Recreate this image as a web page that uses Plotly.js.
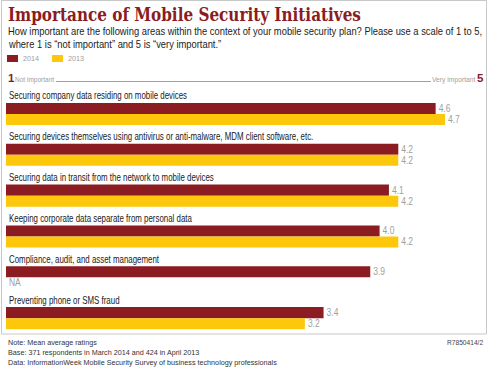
<!DOCTYPE html>
<html>
<head>
<meta charset="utf-8">
<script src="https://cdn.plot.ly/plotly-3.0.1.min.js"></script>
<style>
html,body{margin:0;padding:0;background:#fff;}
#chart{width:489px;height:369px;}
</style>
</head>
<body>
<div id="chart"></div>
<script>
// ---- data ----
const categories = [
  "Securing company data residing on mobile devices",
  "Securing devices themselves using antivirus or anti-malware, MDM client software, etc.",
  "Securing data in transit from the network to mobile devices",
  "Keeping corporate data separate from personal data",
  "Compliance, audit, and asset management",
  "Preventing phone or SMS fraud"
];
const seriesNames = ["2014", "2013"];
const values2014 = [4.6, 4.2, 4.1, 4.0, 3.9, 3.4];
const values2013 = [4.7, 4.2, 4.2, 4.2, null, 3.2];
const scaleMin = 1, scaleMax = 5;
const scaleLabels = ["Not important", "Very important"];

// ---- layout helpers (pixel -> paper) ----
const W = 489, H = 369;
const PL = 6, PR = 473, PT = 86, PB = 331;
const px = x => (x - PL) / (PR - PL);
const py = y => 1 - (y - PT) / (PB - PT);

const RED = "#8a1c22", GOLD = "#fdc70c", GRAY = "#a0a0a0";
const SANS = "'Liberation Sans', Arial, sans-serif";
const SERIF = "'DejaVu Serif Condensed', 'DejaVu Serif', serif";

const barW = 0.27;
const traces = [
  {type:"bar", orientation:"h", name:seriesNames[0], y:categories, x:values2014,
   marker:{color:RED}, width:barW, offset:-0.085,
   text:values2014.map(v=>v==null?"":v.toFixed(1)), textposition:"outside",
   textfont:{family:SANS, size:10, color:GRAY}, cliponaxis:false, hoverinfo:"none"},
  {type:"bar", orientation:"h", name:seriesNames[1], y:categories, x:values2013,
   marker:{color:GOLD}, width:barW, offset:0.185,
   text:values2013.map(v=>v==null?"":v.toFixed(1)), textposition:"outside",
   textfont:{family:SANS, size:10, color:GRAY}, cliponaxis:false, hoverinfo:"none"}
];

const ann = [];
const condense = [];   // horizontal condensing factor per annotation (stand-in for a condensed face)
const A = (o, k) => { ann.push(Object.assign({showarrow:false, xref:"paper", yref:"paper"}, o)); condense.push(k || 1); };

// title & subtitle
A({x:px(6), y:py(14.5), xanchor:"left", yanchor:"middle", align:"left",
   text:"<b>Importance of Mobile Security Initiatives</b>",
   font:{family:SERIF, size:18.5, color:RED}}, 0.915);
A({x:px(6), y:py(31), xanchor:"left", yanchor:"middle", align:"left",
   text:"How important are the following areas within the context of your mobile security plan? Please use a scale of 1 to 5,",
   font:{family:SANS, size:10.5, color:"#222"}}, 0.893);
A({x:px(6), y:py(44), xanchor:"left", yanchor:"middle", align:"left",
   text:"where 1 is \u201cnot important\u201d and 5 is \u201cvery important.\u201d",
   font:{family:SANS, size:10.5, color:"#222"}}, 0.893);

// legend (custom)
const shapes = [];
const legX = [7, 52];
seriesNames.forEach((n,i)=>{
  shapes.push({type:"rect", xref:"paper", yref:"paper", x0:px(legX[i]), x1:px(legX[i]+11),
    y0:py(62), y1:py(55), fillcolor:i===0?RED:GOLD, line:{width:0}});
  A({x:px(legX[i]+14), y:py(58.5), xanchor:"left", yanchor:"middle", align:"left", text:n,
     font:{family:SANS, size:8, color:GRAY}}, 0.9);
});

// scale line
A({x:px(6), y:py(78), xanchor:"left", yanchor:"middle", align:"left", text:"<b>"+scaleMin+"</b>",
   font:{family:SANS, size:11.5, color:RED}});
A({x:px(13), y:py(79), xanchor:"left", yanchor:"middle", align:"left", text:scaleLabels[0],
   font:{family:SANS, size:7.5, color:GRAY}}, 0.87);
A({x:px(478), y:py(79), xanchor:"right", yanchor:"middle", align:"right", text:scaleLabels[1],
   font:{family:SANS, size:7.5, color:GRAY}}, 0.9);
A({x:px(486), y:py(78), xanchor:"right", yanchor:"middle", align:"right", text:"<b>"+scaleMax+"</b>",
   font:{family:SANS, size:11.5, color:RED}});
shapes.push({type:"line", xref:"paper", yref:"paper", x0:px(56), x1:px(431), y0:py(81.5), y1:py(81.5),
  line:{color:"#888", width:0.8}});

// category labels
categories.forEach((c,i)=>{
  ann.push({showarrow:false, xref:"x", yref:"y", x:0, y:i, xanchor:"left", yanchor:"middle", align:"left",
    xshift:1, yshift:10.5, text:c, font:{family:SANS, size:10, color:"#1a1a1a"}});
  condense.push(0.79);
});
// NA labels
values2013.forEach((v,i)=>{
  if(v==null){ ann.push({showarrow:false, xref:"x", yref:"y", x:0, y:i, xanchor:"left", yanchor:"middle", align:"left",
    xshift:1, yshift:-13, text:"NA", font:{family:SANS, size:10, color:GRAY}}); condense.push(0.85); }
});

// frame
shapes.push({type:"rect", xref:"paper", yref:"paper", x0:px(1.5), x1:px(486.5), y0:py(334), y1:py(0.5),
  line:{color:"#c8c8c8", width:1}, fillcolor:"rgba(0,0,0,0)", layer:"below"});

// footnotes
const notes = ["Note: Mean average ratings",
  "Base: 371 respondents in March 2014 and 424 in April 2013",
  "Data: InformationWeek Mobile Security Survey of business technology professionals"];
notes.forEach((t,i)=>A({x:px(6), y:py(342+i*10), xanchor:"left", yanchor:"middle", align:"left", text:t,
  font:{family:SANS, size:8, color:"#333"}}, 0.9));
A({x:px(485), y:py(342), xanchor:"right", yanchor:"middle", align:"right", text:"R7850414/2",
  font:{family:SANS, size:7, color:"#444"}}, 0.95);

const layout = {
  width:W, height:H,
  margin:{l:PL, r:W-PR, t:PT, b:H-PB, pad:0},
  paper_bgcolor:"#fff", plot_bgcolor:"rgba(0,0,0,0)",
  showlegend:false,
  barmode:"overlay",
  xaxis:{range:[0,5], visible:false, fixedrange:true},
  yaxis:{type:"category", autorange:false, visible:false, range:[5.5,-0.5], fixedrange:true},
  annotations:ann, shapes:shapes
};

// horizontally condense a text element around its anchor edge
function squeeze(t, k, anchor){
  const b = t.getBBox();
  const x0 = anchor === "right" ? b.x + b.width : (anchor === "middle" ? b.x + b.width/2 : b.x);
  const prev = t.getAttribute("transform") || "";
  t.setAttribute("transform", prev + " translate(" + x0 + ",0) scale(" + k + ",1) translate(" + (-x0) + ",0)");
}

Plotly.newPlot("chart", traces, layout, {displayModeBar:false, staticPlot:true}).then(gd=>{
  gd.querySelectorAll("g.annotation").forEach(g=>{
    const idx = +g.getAttribute("data-index");
    const k = condense[idx];
    if(!k || k===1) return;
    const t = g.querySelector("text.annotation-text");
    if(!t) return;
    squeeze(t, k, ann[idx].xanchor);
  });
  gd.querySelectorAll("text.bartext").forEach(t=>squeeze(t, 0.85, "left"));
});
</script>
</body>
</html>
